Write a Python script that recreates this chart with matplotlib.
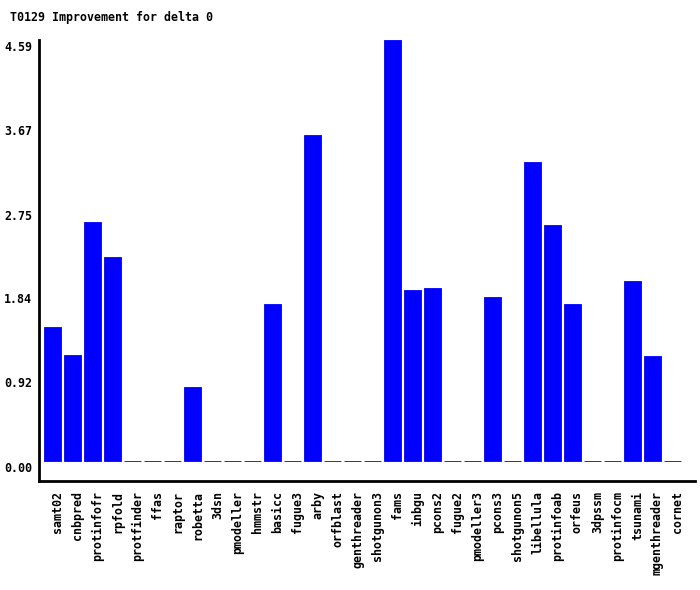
import matplotlib
matplotlib.use('Agg')
from matplotlib import pyplot as plt
from matplotlib.transforms import ScaledTranslation

# data
names = ['samt02', 'cnbpred', 'protinfofr', 'rpfold', 'protfinder', 'ffas',
         'raptor', 'robetta', '3dsn', 'pmodeller', 'hmmstr', 'basicc',
         'fugue3', 'arby', 'orfblast', 'genthreader', 'shotgunon3', 'fams',
         'inbgu', 'pcons2', 'fugue2', 'pmodeller3', 'pcons3', 'shotgunon5',
         'libellula', 'protinfoab', 'orfeus', '3dpssm', 'protinfocm',
         'tsunami', 'mgenthreader', 'cornet']
values = [1.46, 1.15, 2.60, 2.22, 0, 0,
          0, 0.80, 0, 0, 0, 1.71,
          0, 3.55, 0, 0, 0, 4.59,
          1.86, 1.88, 0, 0, 1.79, 0,
          3.26, 2.57, 1.71, 0, 0,
          1.96, 1.14, 0]
yticks = [0.00, 0.92, 1.84, 2.75, 3.67, 4.59]

plt.rcParams['font.family'] = 'DejaVu Sans Mono'
plt.rcParams['font.weight'] = 'bold'
plt.rcParams['font.size'] = 8.4

W, H = 700, 590
fig = plt.figure(figsize=(W / 100, H / 100), dpi=100)
ax = fig.add_axes([39 / W, 1 - 481 / H, (695 - 39) / W, (481 - 40) / H])

x = list(range(len(names)))
ax.bar(x, values, width=0.86, color='#0000ff', edgecolor='#0000ff', linewidth=0.6)

# 0 sits at y=460.7, 4.59 at y=40
ppu = (460.7 - 40) / 4.59
ax.set_ylim(-(481 - 460.7) / ppu, 4.59)
ax.set_xlim(-0.5 - (44 - 39) / 20 + 0.07, len(names) - 1 + 0.5 + (695 - 681) / 20 - 0.07)

ax.set_yticks(yticks)
ax.set_yticklabels(['%.2f' % v for v in yticks])
ax.set_xticks(x)
ax.set_xticklabels(names, rotation=90, va='top', ha='center')
ax.tick_params(length=0)
ax.tick_params(axis='y', pad=5)
ax.tick_params(axis='x', pad=7.5)
for lab in ax.get_yticklabels():
    lab.set_transform(lab.get_transform() + ScaledTranslation(0, -6 / 100, fig.dpi_scale_trans))
for lab in ax.get_xticklabels():
    lab.set_transform(lab.get_transform() + ScaledTranslation(5 / 100, 0, fig.dpi_scale_trans))

for s in ['top', 'right']:
    ax.spines[s].set_visible(False)
ax.spines['left'].set_linewidth(2)
ax.spines['bottom'].set_linewidth(2)

fig.text(10 / W, 1 - 17 / H, 'T0129 Improvement for delta 0', va='center', ha='left')

fig.savefig('out.png', dpi=100)
